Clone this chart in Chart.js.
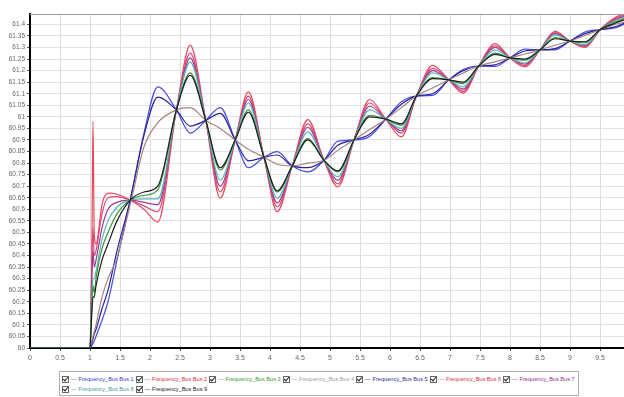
<!DOCTYPE html>
<html>
<head>
<meta charset="utf-8">
<script src="https://cdn.jsdelivr.net/npm/chart.js@4.4.1/dist/chart.umd.min.js"></script>
<style>
  body { margin: 0; background: #fff; width: 624px; height: 397px; overflow: hidden; font-family: Arial, "Liberation Sans", sans-serif; }
  #wrap { position: absolute; left: 0; top: 0; width: 624px; height: 366px; }
  #legend { position: absolute; left: 59px; top: 371px; width: 520px; height: 25px; border: 1px solid #b0b0b0; padding: 2px 0 0 2px; box-sizing: border-box; display: flex; flex-wrap: wrap; align-content: flex-start; }
  .item { flex: 0 0 73.5px; height: 10px; line-height: 10px; font-size: 5.6px; white-space: nowrap; overflow: hidden; display: flex; align-items: center; }
  .box { display: inline-block; width: 5px; height: 5px; border: 1px solid #666; position: relative; margin-right: 2px; flex: 0 0 auto; }
  .box::after { content: ""; position: absolute; left: 1px; top: -1px; width: 2px; height: 4px; border: solid #222; border-width: 0 1px 1px 0; transform: rotate(40deg); }
  .dash { margin-right: 2px; }
</style>
</head>
<body>
<div id="wrap"><canvas id="freq"></canvas></div>
<div id="legend"></div>
<script>
// time axis (s), shared by all buses
const t = [0, 1, 1.03, 1.05, 1.07, 1.1, 1.2, 1.3, 1.45, 1.67, 1.9, 2.13, 2.44, 2.67, 2.93, 3.17, 3.42, 3.64, 3.9, 4.12, 4.37, 4.63, 4.9, 5.13, 5.4, 5.66, 5.93, 6.19, 6.44, 6.71, 6.98, 7.22, 7.48, 7.75, 8.0, 8.25, 8.5, 8.75, 9.0, 9.25, 9.5, 9.75, 9.9];

const bus1 = [60, 60, 60.01, 60.02, 60.03, 60.05, 60.12, 60.2, 60.38, 60.64, 60.93, 61.13, 61.03, 60.93, 60.985, 61.04, 60.90, 60.78, 60.825, 60.85, 60.788, 60.762, 60.812, 60.895, 60.90, 60.915, 60.99, 61.065, 61.09, 61.093, 61.16, 61.205, 61.22, 61.218, 61.255, 61.293, 61.29, 61.29, 61.328, 61.367, 61.377, 61.385, 61.40];
const bus2 = [60, 60, 60.4, 60.98, 60.5, 60.45, 60.62, 60.67, 60.665, 60.64, 60.6, 60.545, 61.03, 61.31, 60.985, 60.648, 60.90, 61.108, 60.825, 60.59, 60.788, 60.988, 60.812, 60.697, 60.90, 61.075, 60.99, 60.913, 61.09, 61.223, 61.16, 61.103, 61.22, 61.317, 61.255, 61.216, 61.29, 61.37, 61.328, 61.30, 61.377, 61.43, 61.445];
const bus3 = [60, 60, 60.18, 60.27, 60.24, 60.3, 60.43, 60.5, 60.58, 60.64, 60.66, 60.685, 61.03, 61.19, 60.985, 60.77, 60.90, 61.03, 60.825, 60.675, 60.788, 60.906, 60.812, 60.762, 60.90, 61.007, 60.99, 60.964, 61.09, 61.17, 61.16, 61.144, 61.22, 61.276, 61.255, 61.245, 61.29, 61.343, 61.328, 61.32, 61.377, 61.41, 61.425];
const bus4 = [60, 60, 60.03, 60.05, 60.07, 60.1, 60.22, 60.3, 60.39, 60.62, 60.87, 60.975, 61.03, 61.04, 60.985, 60.95, 60.90, 60.86, 60.825, 60.795, 60.788, 60.80, 60.812, 60.855, 60.90, 60.945, 60.99, 61.04, 61.09, 61.125, 61.16, 61.19, 61.22, 61.238, 61.255, 61.272, 61.29, 61.31, 61.328, 61.352, 61.377, 61.40, 61.41];
const bus5 = [60, 60, 60.02, 60.04, 60.06, 60.08, 60.17, 60.25, 60.42, 60.64, 60.92, 61.085, 61.03, 60.96, 60.985, 61.015, 60.90, 60.81, 60.825, 60.835, 60.788, 60.78, 60.812, 60.877, 60.90, 60.925, 60.99, 61.055, 61.09, 61.10, 61.16, 61.20, 61.22, 61.225, 61.255, 61.285, 61.29, 61.295, 61.328, 61.36, 61.377, 61.39, 61.405];
const bus6 = [60, 60, 60.35, 60.52, 60.4, 60.42, 60.58, 60.65, 60.655, 60.64, 60.615, 60.59, 61.03, 61.276, 60.985, 60.675, 60.90, 61.09, 60.825, 60.61, 60.788, 60.97, 60.812, 60.71, 60.90, 61.06, 60.99, 60.93, 61.09, 61.21, 61.16, 61.11, 61.22, 61.307, 61.255, 61.222, 61.29, 61.365, 61.328, 61.305, 61.377, 61.425, 61.44];
const bus7 = [60, 60, 60.3, 60.42, 60.35, 60.38, 60.52, 60.6, 60.63, 60.64, 60.63, 60.62, 61.03, 61.255, 60.985, 60.70, 60.90, 61.075, 60.825, 60.628, 60.788, 60.955, 60.812, 60.726, 60.90, 61.046, 60.99, 60.94, 61.09, 61.20, 61.16, 61.12, 61.22, 61.30, 61.255, 61.228, 61.29, 61.36, 61.328, 61.308, 61.377, 61.42, 61.435];
const bus8 = [60, 60, 60.22, 60.3, 60.3, 60.33, 60.47, 60.55, 60.61, 60.64, 60.645, 60.645, 61.03, 61.237, 60.985, 60.726, 60.90, 61.06, 60.825, 60.648, 60.788, 60.935, 60.812, 60.74, 60.90, 61.03, 60.99, 60.95, 61.09, 61.19, 61.16, 61.13, 61.22, 61.29, 61.255, 61.233, 61.29, 61.355, 61.328, 61.312, 61.377, 61.415, 61.43];
const bus9 = [60, 60, 60.15, 60.22, 60.22, 60.27, 60.38, 60.45, 60.55, 60.64, 60.675, 60.70, 61.03, 61.18, 60.985, 60.78, 60.90, 61.02, 60.825, 60.68, 60.788, 60.90, 60.812, 60.766, 60.90, 61.0, 60.99, 60.97, 61.09, 61.165, 61.16, 61.15, 61.22, 61.27, 61.255, 61.25, 61.29, 61.338, 61.328, 61.325, 61.377, 61.405, 61.42];

const busNames = ['Frequency_Bus Bus 1', 'Frequency_Bus Bus 2', 'Frequency_Bus Bus 3', 'Frequency_Bus Bus 4', 'Frequency_Bus Bus 5', 'Frequency_Bus Bus 6', 'Frequency_Bus Bus 7', 'Frequency_Bus Bus 8', 'Frequency_Bus Bus 9'];
const busColors = ['#4b4be6', '#e8465a', '#3b9a3b', '#a88080', '#262694', '#dc4a78', '#9a3c92', '#5ab4b4', '#1e1e1e'];
const legendColors = ['#3b3bd0', '#e03040', '#30a030', '#a0a0a0', '#3030a0', '#d03050', '#903090', '#40a0a0', '#202020'];
const busValues = [bus1, bus2, bus3, bus4, bus5, bus6, bus7, bus8, bus9];

const xMin = 0, xMax = 9.9, xStep = 0.5;
const yMin = 60, yMax = 61.445, yStep = 0.05;

// draws datasets back-to-front: black/green on top like the original
const drawOrder = [8, 2, 7, 6, 5, 1, 3, 4, 0];

const datasets = busValues.map((vals, i) => ({
    label: busNames[i],
    data: t.map((x, j) => ({x: x, y: vals[j]})),
    borderColor: busColors[i],
    borderWidth: 1.2,
    pointRadius: 0,
    fill: false,
    cubicInterpolationMode: 'monotone',
    order: drawOrder.indexOf(i)
}));

// thin grey frame line at the top of the plot
const topLine = {
    id: 'topLine',
    afterDraw(chart) {
        const {ctx, chartArea} = chart;
        ctx.save();
        ctx.strokeStyle = '#999';
        ctx.lineWidth = 1;
        ctx.beginPath();
        ctx.moveTo(chartArea.left, chartArea.top + 0.5);
        ctx.lineTo(chartArea.right, chartArea.top + 0.5);
        ctx.stroke();
        ctx.restore();
    }
};

new Chart(document.getElementById('freq'), {
    type: 'line',
    data: {datasets: datasets},
    options: {
        responsive: true,
        maintainAspectRatio: false,
        animation: false,
        layout: {padding: {top: 14, left: 0, right: 0, bottom: 0}},
        plugins: {legend: {display: false}, tooltip: {enabled: false}},
        scales: {
            x: {
                type: 'linear',
                min: xMin, max: xMax,
                afterFit: s => { s.height = 18; },
                border: {color: '#000', width: 2},
                grid: {color: '#dedede', tickLength: 3, tickColor: '#555'},
                ticks: {stepSize: xStep, includeBounds: false, autoSkip: false, maxRotation: 0, padding: 3,
                        color: '#666', font: {size: 7, family: 'Arial'},
                        callback: v => String(+v.toFixed(2))}
            },
            y: {
                type: 'linear',
                min: yMin, max: yMax,
                afterFit: s => { s.width = 30; },
                border: {color: '#000', width: 2},
                grid: {color: '#e2e2e2', tickLength: 3, tickColor: '#555'},
                ticks: {stepSize: yStep, includeBounds: false, autoSkip: false, padding: 2,
                        color: '#666', font: {size: 6.5, family: 'Arial'},
                        callback: v => String(+v.toFixed(2))}
            }
        }
    },
    plugins: [topLine]
});

// checkbox legend under the plot
const legend = document.getElementById('legend');
busNames.forEach((name, i) => {
    const item = document.createElement('span');
    item.className = 'item';
    item.style.color = legendColors[i];
    item.innerHTML = '<span class="box"></span><span class="dash" style="color:' + busColors[i] + '">\u2014</span>' + name;
    legend.appendChild(item);
});
</script>
</body>
</html>
